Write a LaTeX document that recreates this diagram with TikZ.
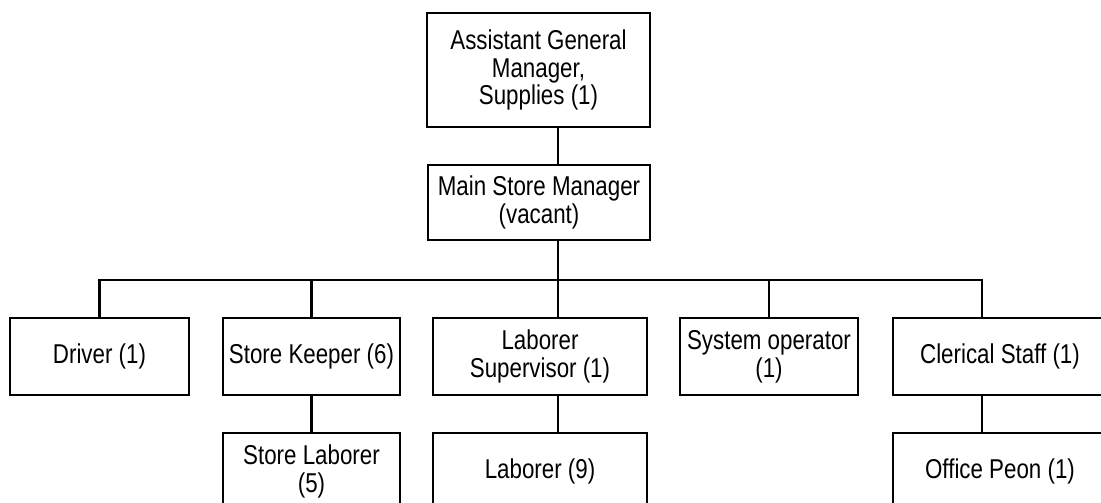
\documentclass[tikz,border=0pt]{standalone}
\usepackage{fontspec}
\setmainfont{Liberation Sans}[FakeStretch=0.82]
\begin{document}
\begin{tikzpicture}[line width=1.2pt, every node/.style={draw, minimum height=1.54cm,
			align=center, inner sep=1pt, font=\fontsize{15.5}{15.8}\selectfont}]
		\clip (0,0) rectangle (22.02,10.04);
		\node[minimum width=4.46cm, minimum height=2.28cm] (AGM) at (10.77,8.64) {Assistant General\\Manager,\\Supplies (1)};
		\node[minimum width=4.44cm, minimum height=1.5cm] (MSM) at (10.78,5.99) {Main Store Manager\\(vacant)};

		\node[minimum width=3.58cm] (DRV) at (1.99,2.91) {Driver (1)};
		\node[minimum width=3.54cm] (SK) at (6.23,2.91) {Store Keeper (6)};
		\node[minimum width=4.28cm] (LS) at (10.80,2.91) {Laborer\\Supervisor (1)};
		\node[minimum width=3.56cm] (SO) at (15.38,2.91) {System operator\\(1)};
		\node[minimum width=4.28cm] (CS) at (20.00,2.91) {Clerical Staff (1)};

		\node[minimum width=3.54cm] (SL) at (6.23,0.61) {Store Laborer\\(5)};
		\node[minimum width=4.28cm] (LB) at (10.80,0.61) {Laborer (9)};
		\node[minimum width=4.28cm] (OP) at (20.00,0.61) {Office Peon (1)};

		\coordinate (T) at (11.16,4.44);
		\coordinate (B) at (19.64,4.44);

		\draw (AGM.south -| T) -- (MSM.north -| T);
		\draw (MSM.south -| T) -- (LS.north -| T);
		\draw (DRV.north) |- (B) -- (B |- CS.north);
		\draw (SK.north |- B) -- (SK.north);
		\draw (SO.north |- B) -- (SO.north);

		\draw (SK.south) -- (SL.north);
		\draw (LS.south -| T) -- (LB.north -| T);
		\draw (CS.south -| B) -- (OP.north -| B);
	\end{tikzpicture}
\end{document}
